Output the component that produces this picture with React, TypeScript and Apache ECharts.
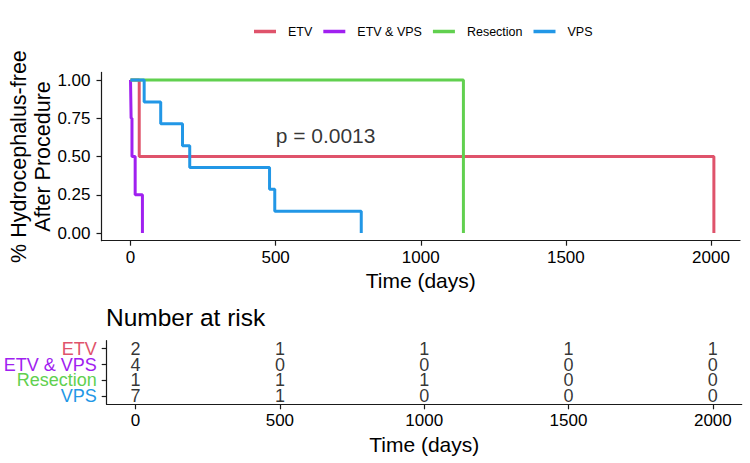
import React, { useEffect, useRef } from "react";
import * as echarts from "echarts";

const groups = ["ETV", "ETV & VPS", "Resection", "VPS"];
const colors = ["#DF536B", "#A020F0", "#61D04F", "#2297E6"];

const etvTimes = [0, 30, 2010];
const etvSurv = [1, 0.5, 0];
const etvVpsTimes = [0, 2, 5, 16, 41];
const etvVpsSurv = [1, 0.75, 0.5, 0.25, 0];
const resectionTimes = [0, 1147];
const resectionSurv = [1, 0];
const vpsTimes = [0, 47, 104, 179, 204, 479, 497, 795];
const vpsSurv = [1, 0.857, 0.714, 0.571, 0.429, 0.286, 0.143, 0];

const timeTicks = [0, 500, 1000, 1500, 2000];
const survTicks = [0, 0.25, 0.5, 0.75, 1];
const riskEtv = [2, 1, 1, 1, 1];
const riskEtvVps = [4, 0, 0, 0, 0];
const riskResection = [1, 1, 1, 0, 0];
const riskVps = [7, 1, 0, 0, 0];

const pValueText = "p = 0.0013";
const pValuePos = [500, 0.64];

const FONT = "'Liberation Sans', Arial, sans-serif";

export default function App() {
  const ref = useRef<HTMLDivElement>(null);
  useEffect(() => {
    if (!ref.current) return;
    const chart = echarts.init(ref.current, null, { renderer: "svg" });
    const curves = [
      [etvTimes, etvSurv],
      [etvVpsTimes, etvVpsSurv],
      [resectionTimes, resectionSurv],
      [vpsTimes, vpsSurv],
    ];
    const riskRows = [riskEtv, riskEtvVps, riskResection, riskVps];
    const riskData: any[] = [];
    riskRows.forEach((row, r) =>
      row.forEach((n, i) => riskData.push([timeTicks[i], groups[r], n]))
    );
    const axisLine = { show: true, onZero: false, lineStyle: { color: "#1a1a1a", width: 1.2 } };
    const axisTick = { show: true, length: 5, lineStyle: { color: "#1a1a1a", width: 1.2 } };
    const xLabel = {
      customValues: timeTicks,
      fontSize: 17,
      color: "#000",
      margin: 8,
      fontFamily: FONT,
      hideOverlap: false,
      formatter: (v: number) => String(v),
    };

    chart.setOption({
      animation: false,
      textStyle: { fontFamily: FONT },
      title: {
        text: "Number at risk",
        left: 106,
        top: 305,
        padding: 0,
        textStyle: { fontSize: 24.5, fontWeight: "normal", color: "#000", fontFamily: FONT },
      },
      legend: {
        data: groups,
        left: 254,
        top: 25,
        padding: 0,
        icon: "rect",
        itemWidth: 22,
        itemHeight: 3.5,
        itemGap: 11,
        textStyle: { fontSize: 12.5, color: "#000", fontFamily: FONT, padding: [0, 0, 0, 7] },
      },
      grid: [
        { left: 101.5, top: 72.4, width: 638.5, height: 168.3, outerBoundsMode: "none", containLabel: false },
        { left: 106.7, top: 340.7, width: 635, height: 63.6, outerBoundsMode: "none", containLabel: false },
      ],
      xAxis: [
        {
          gridIndex: 0,
          type: "value",
          min: -100,
          max: 2100,
          name: "Time (days)",
          nameLocation: "middle",
          nameGap: 29,
          nameMoveOverlap: false,
          nameTextStyle: { fontSize: 21, color: "#000", fontFamily: FONT },
          axisLine,
          axisTick: { ...axisTick, customValues: timeTicks },
          axisLabel: xLabel,
          splitLine: { show: false },
        },
        {
          gridIndex: 1,
          type: "value",
          min: -100,
          max: 2100,
          name: "Time (days)",
          nameLocation: "middle",
          nameGap: 30,
          nameMoveOverlap: false,
          nameTextStyle: { fontSize: 21, color: "#000", fontFamily: FONT },
          axisLine,
          axisTick: { ...axisTick, customValues: timeTicks },
          axisLabel: xLabel,
          splitLine: { show: false },
        },
      ],
      yAxis: [
        {
          gridIndex: 0,
          type: "value",
          min: -0.05,
          max: 1.05,
          name: "% Hydrocephalus-free\nAfter Procedure",
          nameLocation: "middle",
          nameRotate: 90,
          nameGap: 47,
          nameMoveOverlap: false,
          nameTextStyle: { fontSize: 21.5, lineHeight: 24, color: "#000", fontFamily: FONT },
          axisLine,
          axisTick: { ...axisTick, customValues: survTicks },
          axisLabel: {
            customValues: survTicks,
            fontSize: 17,
            color: "#000",
            margin: 11,
            fontFamily: FONT,
            hideOverlap: false,
            formatter: (v: number) => v.toFixed(2),
          },
          splitLine: { show: false },
        },
        {
          gridIndex: 1,
          type: "category",
          data: groups,
          inverse: true,
          boundaryGap: true,
          axisLine,
          axisTick: { ...axisTick, alignWithLabel: true, interval: 0 },
          axisLabel: {
            interval: 0,
            fontSize: 18,
            margin: 10,
            fontFamily: FONT,
            hideOverlap: false,
            color: (_v: any, idx: number) => colors[idx],
          },
          splitLine: { show: false },
        },
      ],
      series: [
        ...curves.map(([t, s], i) => ({
          name: groups[i],
          type: "line",
          xAxisIndex: 0,
          yAxisIndex: 0,
          step: "end",
          symbol: "none",
          color: colors[i],
          lineStyle: { width: 3, color: colors[i] },
          data: t.map((x, j) => [x, s[j]]),
        })),
        {
          name: "pvalue",
          type: "scatter",
          xAxisIndex: 0,
          yAxisIndex: 0,
          symbolSize: 0,
          silent: true,
          data: [pValuePos],
          label: {
            show: true,
            position: "right",
            distance: 0,
            formatter: pValueText,
            fontSize: 21,
            color: "#000",
            fontFamily: FONT,
          },
        },
        {
          name: "risk",
          type: "scatter",
          xAxisIndex: 1,
          yAxisIndex: 1,
          symbolSize: 0,
          silent: true,
          data: riskData,
          label: {
            show: true,
            position: "inside",
            formatter: (p: any) => String(p.value[2]),
            fontSize: 18,
            color: "#000",
            fontFamily: FONT,
          },
        },
      ],
    });
    return () => chart.dispose();
  }, []);
  return (
    <div
      ref={ref}
      style={{ position: "fixed", left: 0, top: 0, width: 750, height: 463, background: "#fff" }}
    />
  );
}
